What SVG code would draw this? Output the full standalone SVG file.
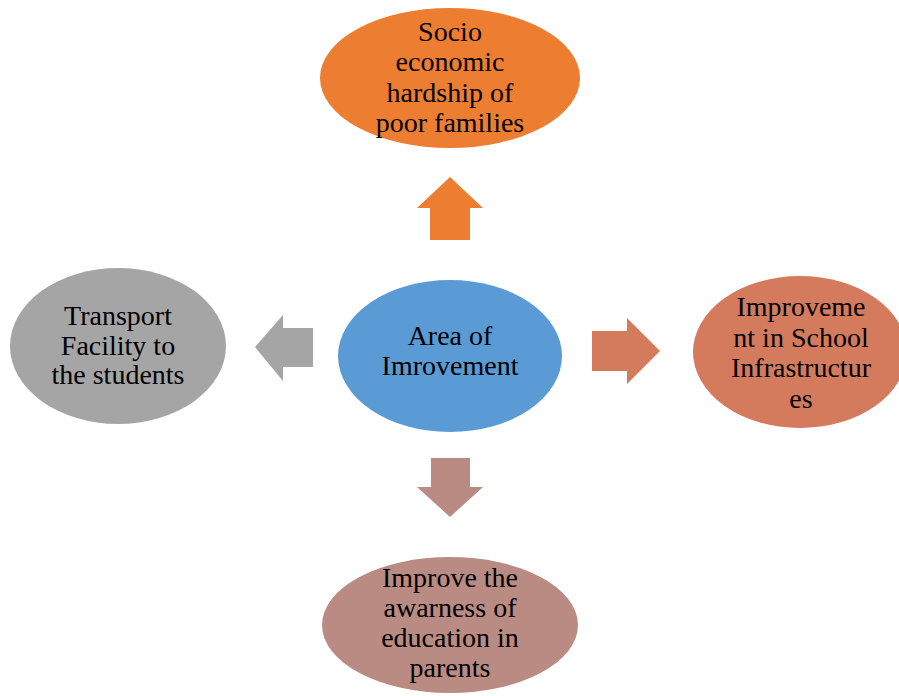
<svg xmlns="http://www.w3.org/2000/svg" width="899" height="696" viewBox="0 0 899 696">
  <style>
    .lbl { font-family: "Liberation Serif", "Times New Roman", serif; font-size: 28px; fill: #000; text-anchor: middle; }
  </style>
  <rect width="899" height="696" fill="#fff"/>

  <!-- block arrows pointing out from the centre -->
  <g id="connectors">
    <polygon points="450,177 483,208 470,208 470,240 430,240 430,208 417,208" fill="#ED7D31"/>
    <polygon points="660,351 627,318 627,331 592,331 592,371 627,371 627,384" fill="#D47B5E"/>
    <polygon points="255,347 283,315 283,328 313,328 313,367 283,367 283,381" fill="#A5A5A5"/>
    <polygon points="450,517 483,487 470,487 470,458 431,458 431,487 417,487" fill="#BA8B82"/>
  </g>

  <g id="socio">
    <ellipse cx="450" cy="78" rx="130" ry="70" fill="#ED7D31"/>
    <text class="lbl" x="450" y="41">Socio</text>
    <text class="lbl" x="450" y="71">economic</text>
    <text class="lbl" x="450" y="102">hardship of</text>
    <text class="lbl" x="450" y="132">poor families</text>
  </g>

  <g id="area">
    <ellipse cx="450" cy="356" rx="112" ry="76" fill="#5B9BD5"/>
    <text class="lbl" x="450" y="345">Area of</text>
    <text class="lbl" x="450" y="375">Imrovement</text>
  </g>

  <g id="transport">
    <ellipse cx="118" cy="346" rx="108" ry="78" fill="#A5A5A5"/>
    <text class="lbl" x="118" y="325">Transport</text>
    <text class="lbl" x="118" y="355">Facility to</text>
    <text class="lbl" x="118" y="384">the students</text>
  </g>

  <g id="infrastructure">
    <ellipse cx="800" cy="352" rx="107" ry="76" fill="#D47B5E"/>
    <text class="lbl" x="801" y="316">Improveme</text>
    <text class="lbl" x="801" y="347">nt in School</text>
    <text class="lbl" x="801" y="377">Infrastructur</text>
    <text class="lbl" x="801" y="408">es</text>
  </g>

  <g id="awareness">
    <ellipse cx="450" cy="625" rx="128" ry="68" fill="#BA8B82"/>
    <text class="lbl" x="450" y="587">Improve the</text>
    <text class="lbl" x="450" y="617">awarness of</text>
    <text class="lbl" x="450" y="647">education in</text>
    <text class="lbl" x="450" y="677">parents</text>
  </g>
</svg>
